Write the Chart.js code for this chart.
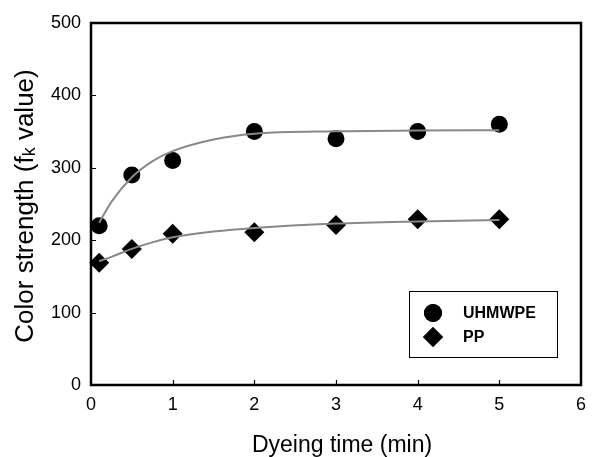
<!DOCTYPE html>
<html>
<head>
<meta charset="utf-8">
<script src="https://cdn.jsdelivr.net/npm/chart.js@4.4.1/dist/chart.umd.min.js"></script>
<style>
  html, body { margin: 0; padding: 0; background: #fff; }
  #wrap { width: 595px; height: 457px; }
</style>
</head>
<body>
<div id="wrap"><canvas id="chart"></canvas></div>
<script>
// measured points
const times = [0.1, 0.5, 1, 2, 3, 4, 5];
const uhmwpe = [220, 290, 310, 350, 340, 350, 360];
const pp = [169, 188, 209, 211, 221, 229, 229];

// fitted curves
const fitTimes = [0.1, 0.25, 0.5, 0.75, 1, 1.5, 2, 3, 4, 5];
const uhmwpeFit = [224, 253, 287, 309, 323, 339, 347, 350.5, 351.5, 352];
const ppFit = [171, 177, 188, 197, 204, 212, 217, 223, 226, 228];

const xTicks = [0, 1, 2, 3, 4, 5, 6];
const yTicks = [0, 100, 200, 300, 400, 500];
const seriesNames = ['UHMWPE', 'PP'];

const FONT = "'Liberation Sans', Arial, sans-serif";

const pts = (xs, ys) => xs.map((x, i) => ({ x: x, y: ys[i] }));

// frame, inside ticks, axis titles and the boxed legend
const decor = {
  id: 'decor',
  afterDraw(chart) {
    const { ctx, chartArea: a, scales } = chart;
    ctx.save();
    ctx.strokeStyle = '#000';
    ctx.lineWidth = 2.5;
    ctx.strokeRect(a.left, a.top, a.right - a.left, a.bottom - a.top);

    ctx.lineWidth = 1.2;
    ctx.beginPath();
    xTicks.slice(1, -1).forEach(v => {
      const px = Math.round(scales.x.getPixelForValue(v)) + 0.5;
      ctx.moveTo(px, a.bottom);
      ctx.lineTo(px, a.bottom - 5);
    });
    yTicks.slice(1, -1).forEach(v => {
      const py = Math.round(scales.y.getPixelForValue(v)) + 0.5;
      ctx.moveTo(a.left, py);
      ctx.lineTo(a.left + 5, py);
    });
    ctx.stroke();

    // x title
    ctx.fillStyle = '#000';
    ctx.font = '23px ' + FONT;
    ctx.textAlign = 'center';
    ctx.textBaseline = 'alphabetic';
    ctx.fillText('Dyeing time (min)', 342, 452);

    // y title with small k
    ctx.save();
    ctx.translate(33, 206);
    ctx.rotate(-Math.PI / 2);
    const p1 = 'Color strength (f', p2 = 'k', p3 = ' value)';
    ctx.font = '26px ' + FONT;
    const w1 = ctx.measureText(p1).width, w3 = ctx.measureText(p3).width;
    ctx.font = '18px ' + FONT;
    const w2 = ctx.measureText(p2).width;
    let x0 = -(w1 + w2 + w3) / 2;
    ctx.textAlign = 'left';
    ctx.font = '26px ' + FONT;
    ctx.fillText(p1, x0, 0);
    ctx.font = '18px ' + FONT;
    ctx.fillText(p2, x0 + w1, 2);
    ctx.font = '26px ' + FONT;
    ctx.fillText(p3, x0 + w1 + w2, 0);
    ctx.restore();

    // legend box
    ctx.lineWidth = 1;
    ctx.strokeRect(409.5, 291.5, 148, 66);
    const styles = [{ s: 'circle', r: 9 }, { s: 'rectRot', r: 10 }];
    ctx.font = 'bold 16px ' + FONT;
    ctx.textAlign = 'left';
    ctx.textBaseline = 'middle';
    seriesNames.forEach((name, i) => {
      const cy = 313 + i * 24;
      ctx.fillStyle = '#000';
      Chart.helpers.drawPoint(ctx, { pointStyle: styles[i].s, radius: styles[i].r, borderWidth: 0, rotation: 0 }, 433, cy);
      ctx.fill();
      ctx.fillText(name, 463, cy + 1);
    });
    ctx.restore();
  }
};

new Chart(document.getElementById('chart'), {
  type: 'scatter',
  data: {
    datasets: [
      {
        label: 'UHMWPE fit',
        data: pts(fitTimes, uhmwpeFit),
        showLine: true,
        borderColor: '#888',
        borderWidth: 2,
        pointRadius: 0,
        cubicInterpolationMode: 'monotone',
        clip: false
      },
      {
        label: 'PP fit',
        data: pts(fitTimes, ppFit),
        showLine: true,
        borderColor: '#888',
        borderWidth: 2,
        pointRadius: 0,
        cubicInterpolationMode: 'monotone',
        clip: false
      },
      {
        label: seriesNames[0],
        data: pts(times, uhmwpe),
        pointStyle: 'circle',
        pointRadius: 8.5,
        backgroundColor: '#000',
        borderWidth: 0,
        clip: false
      },
      {
        label: seriesNames[1],
        data: pts(times, pp),
        pointStyle: 'rectRot',
        pointRadius: 10,
        backgroundColor: '#000',
        borderWidth: 0,
        clip: false
      }
    ]
  },
  options: {
    responsive: true,
    maintainAspectRatio: false,
    animation: false,
    events: [],
    layout: { padding: { left: 0, right: 12, top: 23, bottom: 0 } },
    plugins: { legend: { display: false }, tooltip: { enabled: false } },
    scales: {
      x: {
        type: 'linear',
        min: 0,
        max: 6,
        afterFit: s => { s.height = 72; },
        afterBuildTicks: s => { s.ticks = xTicks.map(v => ({ value: v })); },
        grid: { display: false, drawTicks: false },
        border: { display: false },
        ticks: { color: '#000', padding: 9, font: { family: FONT, size: 18 } }
      },
      y: {
        min: 0,
        max: 500,
        afterFit: s => { s.width = 91; },
        afterBuildTicks: s => { s.ticks = yTicks.map(v => ({ value: v })); },
        grid: { display: false, drawTicks: false },
        border: { display: false },
        ticks: { color: '#000', padding: 10, font: { family: FONT, size: 18 } }
      }
    }
  },
  plugins: [decor]
});
</script>
</body>
</html>
